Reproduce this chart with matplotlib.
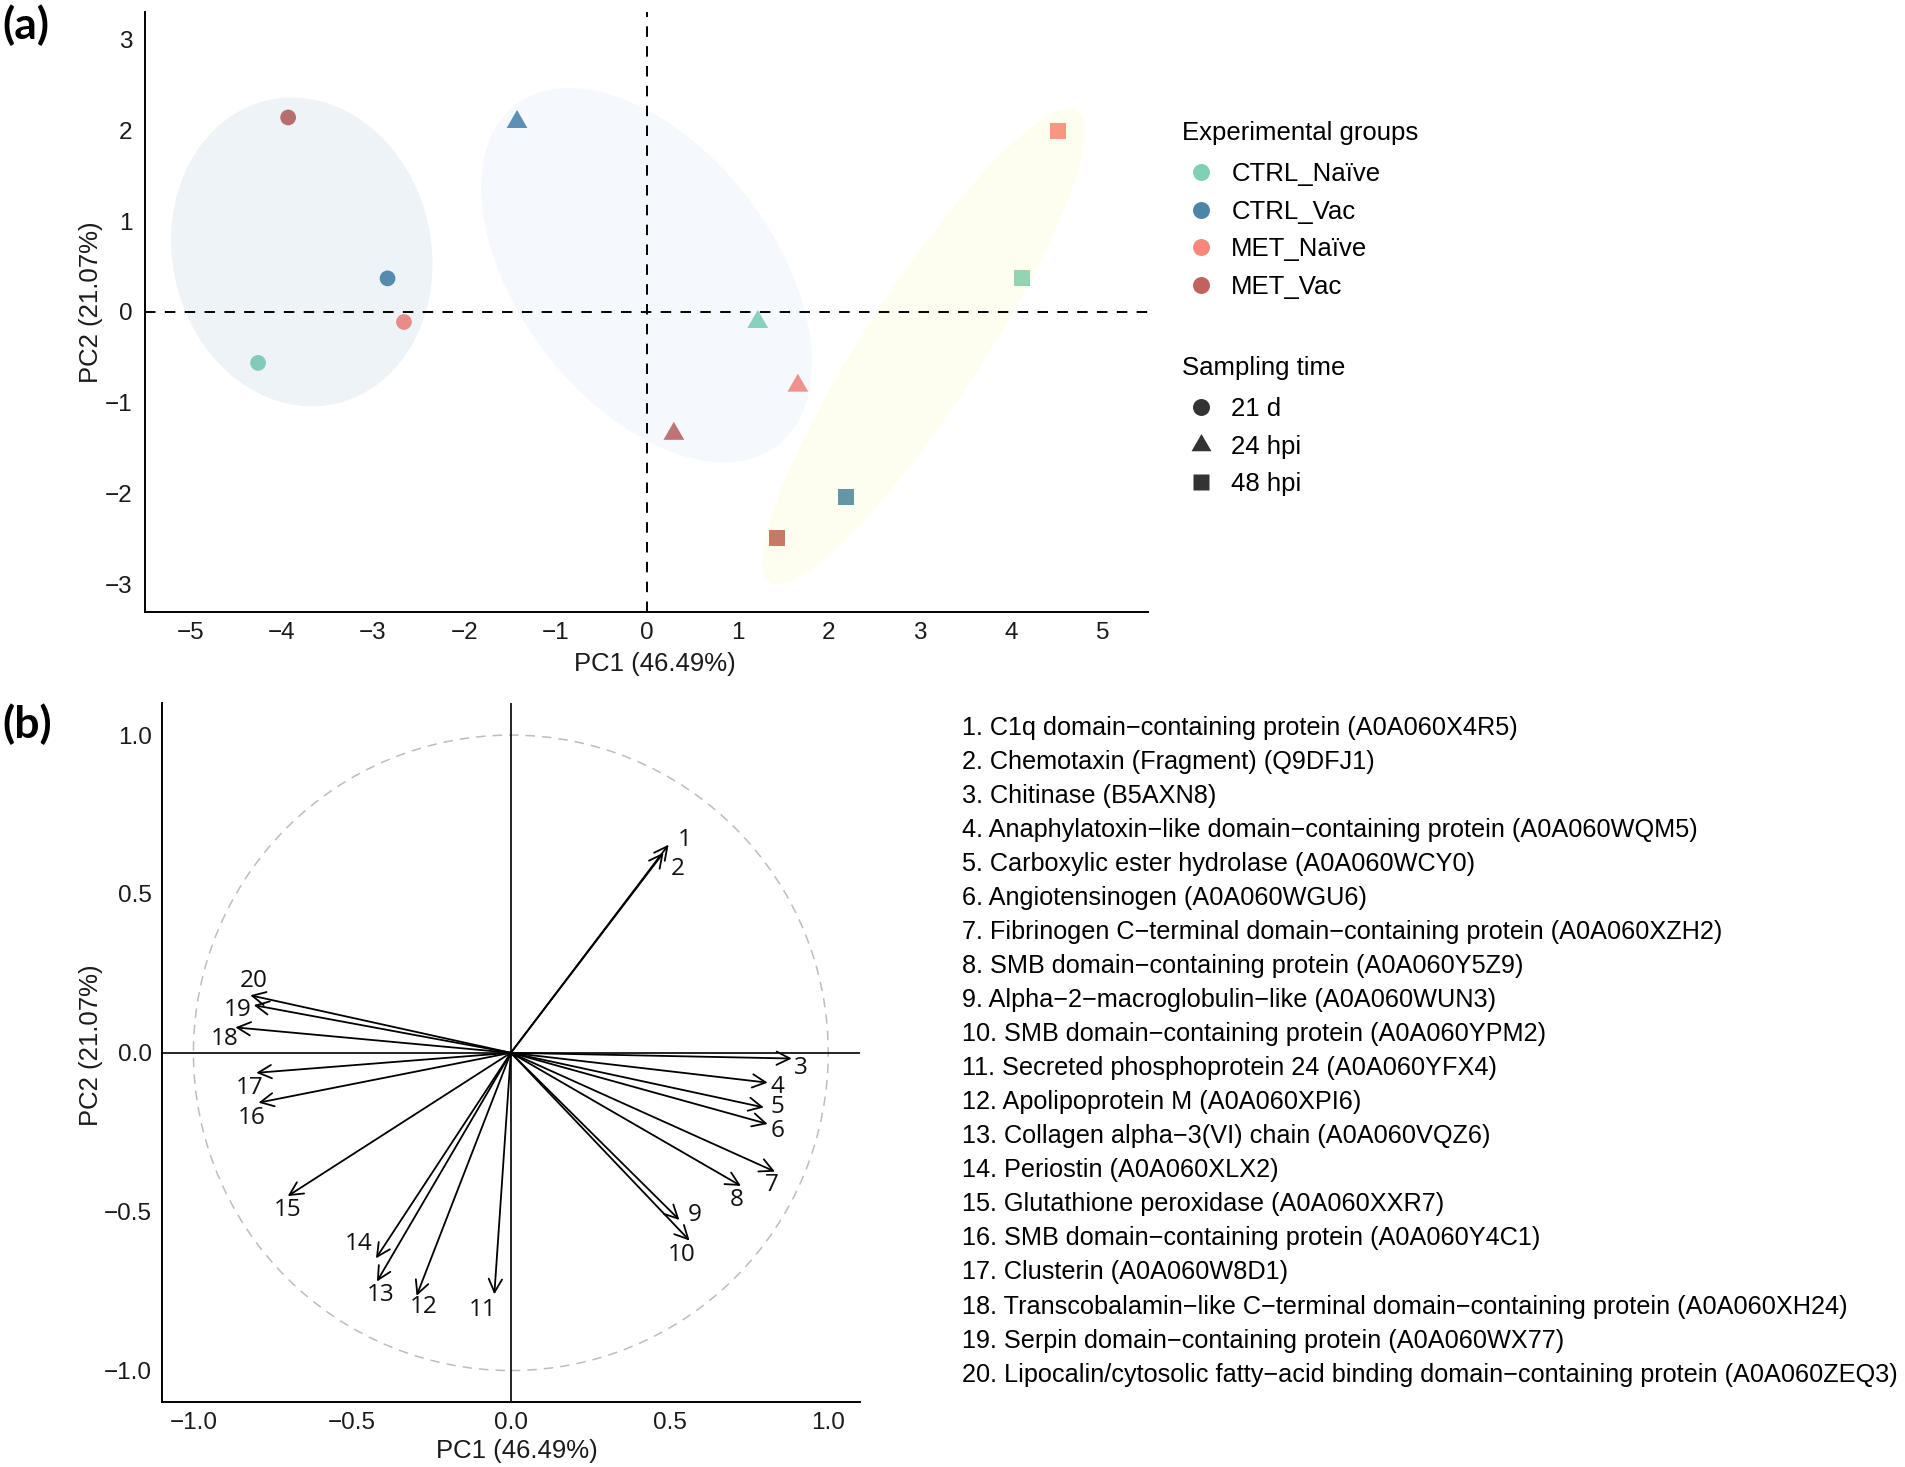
import numpy as np
import matplotlib
matplotlib.use("Agg")
import matplotlib.pyplot as plt
from matplotlib.patches import Ellipse, Circle, FancyArrowPatch
from matplotlib.lines import Line2D
from matplotlib.path import Path

plt.rcParams['font.family'] = ['Liberation Sans', 'DejaVu Sans']
plt.rcParams['axes.unicode_minus'] = True

# ---------------- Panel (a) data ----------------
groups = ['CTRL_Naïve', 'CTRL_Vac', 'MET_Naïve', 'MET_Vac']
group_colors = ['#80CFB7', '#4B85A9', '#F8877B', '#C1625C']
times = ['21 d', '24 hpi', '48 hpi']

sample_group = ['MET_Vac', 'CTRL_Vac', 'MET_Naïve', 'CTRL_Naïve',
                'CTRL_Vac', 'CTRL_Naïve', 'MET_Naïve', 'MET_Vac',
                'MET_Naïve', 'CTRL_Naïve', 'CTRL_Vac', 'MET_Vac']
sample_time = ['21 d'] * 4 + ['24 hpi'] * 4 + ['48 hpi'] * 4
pc1_scores = [-3.93, -2.84, -2.66, -4.26, -1.42, 1.22, 1.66, 0.30, 4.51, 4.12, 2.19, 1.435]
pc2_scores = [2.14, 0.37, -0.11, -0.56, 2.09, -0.11, -0.81, -1.34, 1.99, 0.37, -2.04, -2.49]

# ellipses per sampling time
ell_cx = [-3.78, 0.0, 3.04]
ell_cy = [0.66, 0.405, -0.38]
ell_w = [2.84, 4.72, 6.19]
ell_h = [3.42, 2.80, 1.28]
ell_angle = [12, 127.4, 57]
ell_colors = ['#8EAFD0', '#BCD7F8', '#F8F89B']

pc1_label = 'PC1 (46.49%)'
pc2_label = 'PC2 (21.07%)'
a_xticks = [-5, -4, -3, -2, -1, 0, 1, 2, 3, 4, 5]
a_yticks = [-3, -2, -1, 0, 1, 2, 3]

# ---------------- Panel (b) data ----------------
var_ids = list(range(1, 21))
pc1_load = [0.497, 0.481, 0.885, 0.809, 0.797, 0.809, 0.832, 0.725, 0.531, 0.563,
            -0.052, -0.297, -0.422, -0.425, -0.703, -0.795, -0.802, -0.868, -0.810, -0.821]
pc2_load = [0.655, 0.630, -0.018, -0.094, -0.172, -0.224, -0.374, -0.419, -0.526, -0.591,
            -0.760, -0.765, -0.720, -0.647, -0.451, -0.157, -0.063, 0.080, 0.150, 0.181]
b_ticks = [-1.0, -0.5, 0.0, 0.5, 1.0]

proteins = [
    "C1q domain\u2212containing protein (A0A060X4R5)",
    "Chemotaxin (Fragment) (Q9DFJ1)",
    "Chitinase (B5AXN8)",
    "Anaphylatoxin\u2212like domain\u2212containing protein (A0A060WQM5)",
    "Carboxylic ester hydrolase (A0A060WCY0)",
    "Angiotensinogen (A0A060WGU6)",
    "Fibrinogen C\u2212terminal domain\u2212containing protein (A0A060XZH2)",
    "SMB domain\u2212containing protein (A0A060Y5Z9)",
    "Alpha\u22122\u2212macroglobulin\u2212like (A0A060WUN3)",
    "SMB domain\u2212containing protein (A0A060YPM2)",
    "Secreted phosphoprotein 24 (A0A060YFX4)",
    "Apolipoprotein M (A0A060XPI6)",
    "Collagen alpha\u22123(VI) chain (A0A060VQZ6)",
    "Periostin (A0A060XLX2)",
    "Glutathione peroxidase (A0A060XXR7)",
    "SMB domain\u2212containing protein (A0A060Y4C1)",
    "Clusterin (A0A060W8D1)",
    "Transcobalamin\u2212like C\u2212terminal domain\u2212containing protein (A0A060XH24)",
    "Serpin domain\u2212containing protein (A0A060WX77)",
    "Lipocalin/cytosolic fatty\u2212acid binding domain\u2212containing protein (A0A060ZEQ3)",
]

# label offsets (layout, data units) relative to arrow tips
label_dx = [0.050, 0.045, 0.029, 0.032, 0.044, 0.032, -0.009, -0.013, 0.048, -0.026,
            -0.037, 0.023, 0.013, -0.055, 0.000, -0.020, -0.022, -0.034, -0.052, 0.011]
label_dy = [0.016, -0.052, -0.031, -0.013, 0.000, -0.021, -0.042, -0.044, 0.016, -0.045,
            -0.049, -0.036, -0.042, 0.044, -0.044, -0.049, -0.049, -0.038, -0.016, 0.044]

# ---------------- Figure ----------------
W, H = 1905, 1467
fig = plt.figure(figsize=(W / 100, H / 100), dpi=100)


def fx(px):
    return px / W


def fy(py):
    return 1 - py / H


TICK_FS = 17.5
LAB_FS = 18.5
TXT_COL = '#1a1a1a'

# triangle marker (equilateral, centroid at origin)
tri = Path([(0, 1), (-0.866, -0.5), (0.866, -0.5), (0, 1)],
           [Path.MOVETO, Path.LINETO, Path.LINETO, Path.CLOSEPOLY])
time_markers = {'21 d': 'o', '24 hpi': tri, '48 hpi': 's'}
time_sizes = {'21 d': 128, '24 hpi': 300, '48 hpi': 133}
gcol = dict(zip(groups, group_colors))

# ---- Panel (a) ----
axa = fig.add_axes([fx(145), fy(612), fx(1148) - fx(145), fy(12) - fy(612)])
axa.set_xlim(-5.5, 5.5)
axa.set_ylim(-3.3, 3.3)

for g, t, x, y in zip(sample_group, sample_time, pc1_scores, pc2_scores):
    axa.scatter([x], [y], s=time_sizes[t], marker=time_markers[t], color=gcol[g],
                edgecolors='none', zorder=3)

for cx, cy, w, h, ang, c in zip(ell_cx, ell_cy, ell_w, ell_h, ell_angle, ell_colors):
    axa.add_patch(Ellipse((cx, cy), w, h, angle=ang, facecolor=c, edgecolor='none',
                          alpha=0.15, zorder=4))

axa.axhline(0, color='black', lw=1.4, ls=(0, (5.4, 4.8)), zorder=5)
axa.axvline(0, color='black', lw=1.4, ls=(0, (5.4, 4.8)), zorder=5)

axa.set_xticks(a_xticks)
axa.set_yticks(a_yticks)
axa.set_xticklabels([str(v).replace('-', '\u2212') for v in a_xticks])
axa.set_yticklabels([str(v).replace('-', '\u2212') for v in a_yticks])
axa.tick_params(length=0, labelsize=TICK_FS, labelcolor=TXT_COL)
axa.tick_params(axis='x', pad=7)
axa.tick_params(axis='y', pad=9)
for s in ['top', 'right']:
    axa.spines[s].set_visible(False)
for s in ['left', 'bottom']:
    axa.spines[s].set_linewidth(1.4)
axa.set_xlabel(pc1_label, fontsize=LAB_FS, color=TXT_COL, va='center')
axa.xaxis.set_label_coords(0.508, -0.086)
axa.set_ylabel(pc2_label, fontsize=LAB_FS, color=TXT_COL, va='center')
axa.yaxis.set_label_coords(-0.054, 0.516)

# legends
h_groups = [Line2D([], [], marker='o', ls='none', markersize=12.2, markerfacecolor=c,
                   markeredgecolor='none', label=g) for g, c in zip(groups, group_colors)]
h_times = [Line2D([], [], marker=time_markers[t], ls='none',
                  markersize={'21 d': 12.2, '24 hpi': 16.6, '48 hpi': 11.3}[t],
                  markerfacecolor='#333333', markeredgecolor='none', label=t) for t in times]
LEG_FS = 18.5
LSP = 0.53
leg_kw = dict(loc='upper left', bbox_transform=fig.transFigure, frameon=False,
              fontsize=LEG_FS, title_fontsize=LEG_FS, handlelength=1.47, handletextpad=0.45,
              labelspacing=LSP, borderpad=0, borderaxespad=0, alignment='left')
leg1 = axa.legend(handles=h_groups, title='Experimental groups',
                  bbox_to_anchor=(fx(1182), fy(121)), **leg_kw)
leg1._legend_box.sep = LSP * LEG_FS + 2.5
axa.add_artist(leg1)
leg2 = axa.legend(handles=h_times, title='Sampling time',
                  bbox_to_anchor=(fx(1182), fy(356)), **leg_kw)
leg2._legend_box.sep = LSP * LEG_FS + 2.5

# ---- Panel (b) ----
axb = fig.add_axes([fx(161.7), fy(1402.3), fx(860) - fx(161.7), fy(703.3) - fy(1402.3)])
axb.set_xlim(-1.1, 1.1)
axb.set_ylim(-1.1, 1.1)
axb.add_patch(Circle((0, 0), 1.0, facecolor='none', edgecolor='#BDBDBD', lw=1.1,
                     ls=(0, (6.2, 4.6)), zorder=1))
axb.axhline(0, color='black', lw=1.2, zorder=2)
axb.axvline(0, color='black', lw=1.2, zorder=2)
for i, (x, y) in enumerate(zip(pc1_load, pc2_load)):
    arr = FancyArrowPatch((0, 0), (x, y), arrowstyle='->,head_length=0.95,head_width=0.48',
                          mutation_scale=10, lw=1.3, color='black', shrinkA=0, shrinkB=0,
                          zorder=3)
    axb.add_patch(arr)
    axb.text(x + label_dx[i], y + label_dy[i], str(var_ids[i]), ha='center', va='center',
             fontsize=17.5, family=['Open Sans', 'DejaVu Sans'], color='#111111', zorder=4)

axb.set_xticks(b_ticks)
axb.set_yticks(b_ticks)
fmt = lambda v: f"{v:.1f}".replace('-', '\u2212')
axb.set_xticklabels([fmt(v) for v in b_ticks])
axb.set_yticklabels([fmt(v) for v in b_ticks])
axb.tick_params(length=0, labelsize=TICK_FS, labelcolor=TXT_COL)
axb.tick_params(axis='x', pad=7)
axb.tick_params(axis='y', pad=7)
for s in ['top', 'right']:
    axb.spines[s].set_visible(False)
for s in ['left', 'bottom']:
    axb.spines[s].set_linewidth(1.4)
axb.set_xlabel(pc1_label, fontsize=LAB_FS, color=TXT_COL, va='center')
axb.xaxis.set_label_coords(0.508, -0.069)
axb.set_ylabel(pc2_label, fontsize=LAB_FS, color=TXT_COL, va='center')
axb.yaxis.set_label_coords(-0.101, 0.511)

# protein list
for i, name in enumerate(proteins):
    fig.text(fx(962), fy(735 + 34.03 * i), f"{i + 1}. {name}", ha='left', va='baseline',
             fontsize=18.2, color='black')

# panel labels
fig.text(fx(2), fy(25), '(a)', fontsize=32, fontweight='bold', family=['Lato', 'DejaVu Sans'],
         ha='left', va='center')
fig.text(fx(2), fy(724), '(b)', fontsize=32, fontweight='bold', family=['Lato', 'DejaVu Sans'],
         ha='left', va='center')

fig.savefig('out.png', dpi=100)
